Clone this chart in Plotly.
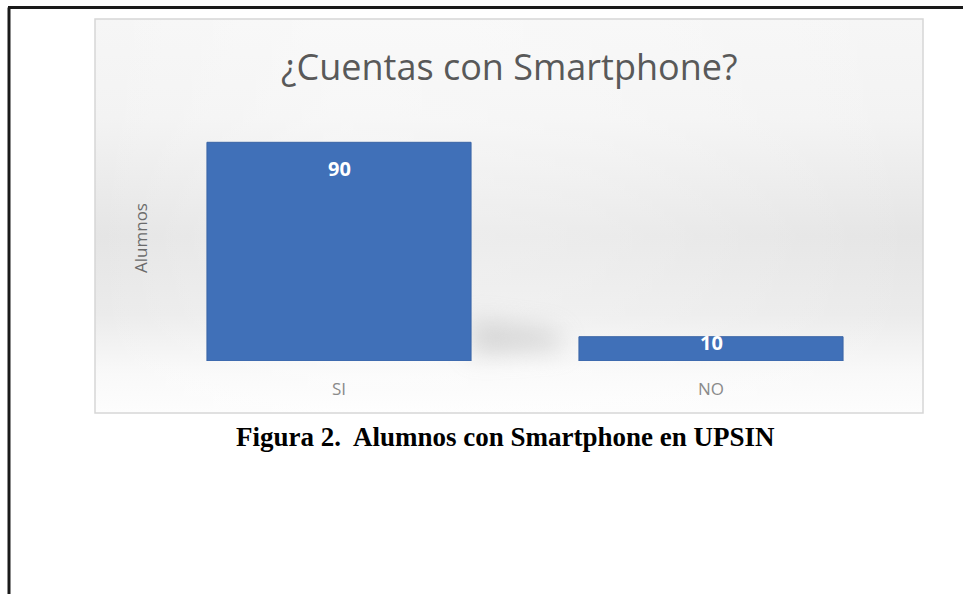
import base64
import plotly.graph_objects as go

# Survey answers: number of students that own a smartphone
categories = ["SI", "NO"]
alumnos = [90, 10]

title_text = "¿Cuentas con Smartphone?"
axis_title = "Alumnos"
caption = "Figura 2.  Alumnos con Smartphone en UPSIN"

W, H = 963, 594
BAR_BLUE = "#4070b8"

# Soft grey panel behind the chart (vertical + horizontal shading, bar shadow)
panel_svg = """<svg xmlns='http://www.w3.org/2000/svg' width='828' height='394' viewBox='0 0 828 394' preserveAspectRatio='none'>
<defs>
<linearGradient id='v' x1='0' y1='0' x2='0' y2='1'>
<stop offset='0' stop-color='#f6f6f6'/>
<stop offset='0.25' stop-color='#f3f3f3'/>
<stop offset='0.55' stop-color='#e5e5e5'/>
<stop offset='0.75' stop-color='#ebebeb'/>
<stop offset='0.9' stop-color='#f9f9f9'/>
<stop offset='1' stop-color='#fdfdfd'/>
</linearGradient>
<linearGradient id='h' x1='0' y1='0' x2='1' y2='0'>
<stop offset='0' stop-color='#ffffff' stop-opacity='0.0'/>
<stop offset='0.3' stop-color='#ffffff' stop-opacity='0.35'/>
<stop offset='0.6' stop-color='#ffffff' stop-opacity='0.25'/>
<stop offset='1' stop-color='#ffffff' stop-opacity='0.0'/>
</linearGradient>
<filter id='b' x='-50%' y='-100%' width='200%' height='300%'><feGaussianBlur stdDeviation='12'/></filter>
</defs>
<rect width='828' height='394' fill='url(#v)'/>
<rect width='828' height='394' fill='url(#h)'/>
<polygon points='376,300 460,312 470,330 376,336' fill='#bdbdbd' opacity='0.55' filter='url(#b)'/>
</svg>"""
panel_src = "data:image/svg+xml;base64," + base64.b64encode(panel_svg.encode()).decode()

fig = go.Figure(
    go.Bar(
        x=categories,
        y=alumnos,
        marker=dict(color=BAR_BLUE, line=dict(color="#3a64a6", width=1)),
        hoverinfo="x+y",
    )
)

# Value labels placed just inside the top of each bar
label_shift = [-26, -6]
for cat, val, dy in zip(categories, alumnos, label_shift):
    fig.add_annotation(
        x=cat, y=val, xref="x", yref="y", yshift=dy,
        text=f"<b>{val}</b>", showarrow=False,
        font=dict(family="Open Sans", size=20, color="#ffffff"),
    )

def px(x):
    return x / W

def py(y):
    return 1 - y / H

fig.add_annotation(
    x=px(509), y=py(67), xref="paper", yref="paper",
    text=title_text, showarrow=False, xanchor="center", yanchor="middle",
    font=dict(family="Open Sans", size=36, color="#595959"),
)
fig.add_annotation(
    x=px(140), y=py(238), xref="paper", yref="paper",
    text=axis_title, showarrow=False, textangle=-90,
    xanchor="center", yanchor="middle",
    font=dict(family="Open Sans", size=17, color="#6b6b6b"),
)
fig.add_annotation(
    x=px(505), y=py(437), xref="paper", yref="paper",
    text=f"<b>{caption}</b>", showarrow=False, xanchor="center", yanchor="middle",
    font=dict(family="Liberation Serif", size=27, color="#000000"),
)

fig.add_layout_image(
    source=panel_src, xref="paper", yref="paper",
    x=px(95), y=py(19), sizex=px(923) - px(95), sizey=py(19) - py(413),
    xanchor="left", yanchor="top", sizing="stretch", layer="below",
)

shapes = [
    # thin frame around the chart panel
    dict(type="rect", xref="paper", yref="paper",
         x0=px(95), x1=px(923), y0=py(413), y1=py(19),
         line=dict(color="#d6d6d6", width=1.5), fillcolor="rgba(0,0,0,0)", layer="below"),
    # page border lines
    dict(type="line", xref="paper", yref="paper",
         x0=px(8), x1=1, y0=py(7.5), y1=py(7.5),
         line=dict(color="#1a1a1a", width=3)),
    dict(type="line", xref="paper", yref="paper",
         x0=px(9), x1=px(9), y0=py(7.5), y1=0,
         line=dict(color="#1a1a1a", width=3)),
]

fig.update_layout(
    width=W, height=H,
    margin=dict(l=0, r=0, t=0, b=0),
    paper_bgcolor="#ffffff",
    plot_bgcolor="rgba(0,0,0,0)",
    showlegend=False,
    bargap=0.29,
    shapes=shapes,
    xaxis=dict(
        domain=[px(153), px(897)],
        showgrid=False, zeroline=False, showline=False, ticks="",
        ticklabelstandoff=16,
        tickfont=dict(family="Open Sans", size=17, color="#8a8a8a"),
    ),
    yaxis=dict(
        domain=[py(361), py(118)],
        range=[0, 100],
        showgrid=False, zeroline=False, showline=False,
        showticklabels=False, ticks="",
    ),
)

fig.write_html("out.html")
